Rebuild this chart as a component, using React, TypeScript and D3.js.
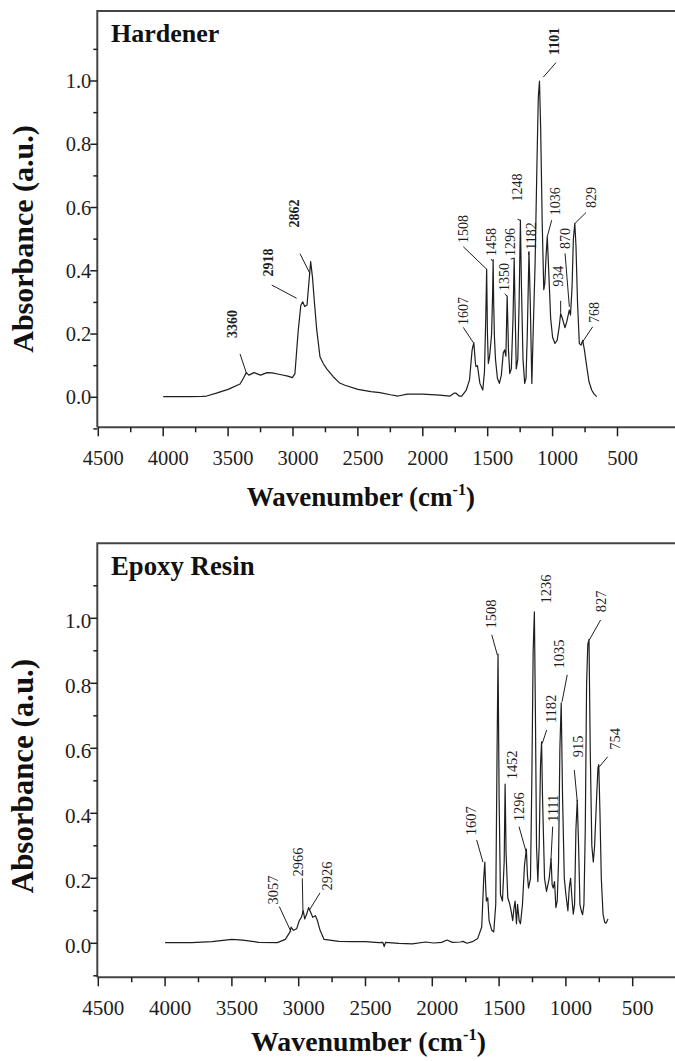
import React from "react";
import * as d3 from "d3";

// ---------- DATA ----------
const xTicks = [4500, 4000, 3500, 3000, 2500, 2000, 1500, 1000, 500];
const xMinorTicks = [4250, 3750, 3250, 2750, 2250, 1750, 1250, 750];
const yTicks = [0.0, 0.2, 0.4, 0.6, 0.8, 1.0];
const yMinorTicks = [-0.1, 0.1, 0.3, 0.5, 0.7, 0.9, 1.1];

const hardenerWave = [4000, 3900, 3800, 3700, 3665, 3590, 3500, 3408, 3380, 3360, 3340, 3300, 3250, 3200, 3160, 3100, 3040, 3005, 2985, 2960, 2940, 2925, 2910, 2892, 2878, 2864, 2850, 2835, 2817, 2792, 2767, 2740, 2690, 2640, 2600, 2500, 2400, 2330, 2250, 2190, 2120, 2000, 1870, 1790, 1760, 1744, 1720, 1700, 1665, 1640, 1620, 1607, 1595, 1590, 1579, 1560, 1538, 1525, 1515, 1508, 1502, 1495, 1485, 1470, 1462, 1458, 1454, 1448, 1440, 1425, 1410, 1395, 1380, 1370, 1360, 1350, 1340, 1330, 1318, 1305, 1296, 1290, 1280, 1268, 1258, 1248, 1240, 1228, 1215, 1205, 1195, 1182, 1172, 1160, 1150, 1135, 1120, 1110, 1101, 1092, 1080, 1068, 1060, 1050, 1041, 1030, 1015, 1000, 982, 965, 950, 938, 925, 905, 890, 880, 871, 862, 850, 840, 829, 820, 808, 794, 780, 768, 755, 737, 720, 699, 680, 660];
const hardenerAbs = [0.002, 0.002, 0.002, 0.003, 0.004, 0.013, 0.025, 0.042, 0.062, 0.078, 0.07, 0.078, 0.07, 0.078, 0.077, 0.072, 0.067, 0.062, 0.075, 0.21, 0.29, 0.302, 0.287, 0.292, 0.36, 0.429, 0.38, 0.3, 0.213, 0.128, 0.107, 0.09, 0.065, 0.045, 0.038, 0.025, 0.018, 0.015, 0.008, 0.004, 0.01, 0.01, 0.007, 0.004, 0.013, 0.013, 0.004, 0.004, 0.023, 0.055, 0.15, 0.173, 0.11, 0.097, 0.1, 0.044, 0.023, 0.08, 0.25, 0.405, 0.2, 0.107, 0.13, 0.2, 0.33, 0.435, 0.3, 0.19, 0.12, 0.06, 0.044, 0.07, 0.14, 0.15, 0.13, 0.32, 0.15, 0.075, 0.09, 0.25, 0.44, 0.3, 0.09, 0.12, 0.3, 0.56, 0.35, 0.12, 0.044, 0.06, 0.2, 0.46, 0.3, 0.044, 0.2, 0.42, 0.75, 0.95, 1.0, 0.85, 0.55, 0.34, 0.36, 0.45, 0.508, 0.4, 0.25, 0.19, 0.17, 0.18, 0.22, 0.265, 0.25, 0.22, 0.24, 0.26, 0.276, 0.26, 0.35, 0.5, 0.55, 0.48, 0.3, 0.17, 0.165, 0.18, 0.15, 0.097, 0.05, 0.023, 0.01, 0.002];

const epoxyWave = [4000, 3800, 3650, 3550, 3500, 3420, 3300, 3160, 3100, 3065, 3057, 3040, 3015, 2995, 2980, 2966, 2955, 2940, 2926, 2910, 2895, 2875, 2860, 2840, 2810, 2700, 2600, 2500, 2400, 2370, 2360, 2350, 2250, 2150, 2050, 1990, 1930, 1890, 1850, 1790, 1770, 1740, 1700, 1660, 1630, 1615, 1607, 1600, 1595, 1585, 1575, 1555, 1540, 1525, 1515, 1508, 1500, 1490, 1475, 1462, 1455, 1448, 1435, 1420, 1410, 1398, 1388, 1380, 1370, 1362, 1350, 1340, 1325, 1310, 1296, 1288, 1280, 1265, 1255, 1245, 1236, 1228, 1220, 1210, 1200, 1190, 1182, 1175, 1160, 1145, 1135, 1125, 1111, 1103, 1095, 1085, 1075, 1065, 1055, 1045, 1035, 1025, 1012, 1000, 985, 975, 965, 955, 945, 935, 925, 915, 905, 895, 885, 875, 865, 855, 845, 836, 827, 818, 806, 795, 785, 770, 760, 754, 745, 735, 722, 710, 700, 690, 685];
const epoxyAbs = [0.002, 0.002, 0.005, 0.01, 0.012, 0.01, 0.003, 0.002, 0.012, 0.035, 0.05, 0.04, 0.045, 0.07, 0.08, 0.1, 0.075, 0.09, 0.11, 0.095, 0.08, 0.085, 0.07, 0.04, 0.012, 0.006, 0.005, 0.005, 0.002, 0.003, -0.01, 0.003, 0.0, -0.002, 0.004, 0.001, 0.003, 0.01, 0.003, 0.004, 0.006, 0.0, 0.005, 0.015, 0.05, 0.2, 0.25, 0.17, 0.13, 0.14, 0.07, 0.04, 0.035, 0.12, 0.6, 0.89, 0.45, 0.15, 0.13, 0.25, 0.49, 0.28, 0.14, 0.12, 0.1, 0.07, 0.11, 0.13, 0.06, 0.12, 0.07, 0.06, 0.12, 0.24, 0.29, 0.21, 0.17, 0.2, 0.5, 0.9, 1.02, 0.7, 0.3, 0.19, 0.3, 0.55, 0.62, 0.45, 0.2, 0.16, 0.18, 0.2, 0.26, 0.18, 0.17, 0.19, 0.11, 0.13, 0.25, 0.6, 0.74, 0.45, 0.2, 0.15, 0.1, 0.17, 0.2, 0.14, 0.09, 0.12, 0.35, 0.44, 0.3, 0.12, 0.1, 0.088, 0.12, 0.35, 0.8, 0.92, 0.935, 0.6, 0.3, 0.25, 0.3, 0.45, 0.54, 0.55, 0.4, 0.2, 0.09, 0.065, 0.062, 0.07, 0.075];

// annotation labels: text, label centre (wavenumber, abs), leader line (from -> to)
const hardenerLabels = ["3360", "2918", "2862", "1607", "1508", "1458", "1350", "1296", "1248", "1182", "1101", "1036", "934", "870", "829", "768"];
const hardenerBold = [true, true, true, false, false, false, false, false, false, false, true, false, false, false, false, false];
const hardenerLabelPos = [[3466, 0.232], [3185, 0.426], [2988, 0.581], [1690, 0.273], [1690, 0.532], [1471, 0.491], [1367, 0.38], [1321, 0.491], [1267, 0.663], [1163, 0.51], [989, 1.125], [974, 0.62], [955, 0.383], [904, 0.502], [699, 0.632], [676, 0.268]];
const hardenerLeaders = [[3408, 0.137, 3357, 0.074], [3164, 0.355, 2972, 0.313], [2946, 0.454, 2869, 0.391], [1688, 0.221, 1611, 0.173], [1688, 0.476, 1508, 0.405], [1474, 0.437, 1462, 0.43], [1370, 0.327, 1350, 0.32], [1323, 0.437, 1297, 0.44], [1270, 0.563, 1251, 0.56], [1185, 0.45, 1182, 0.46], [1072, 1.012, 974, 1.058], [1007, 0.56, 1041, 0.508], [938, 0.305, 938, 0.267], [904, 0.455, 871, 0.286], [743, 0.584, 827, 0.55], [691, 0.223, 776, 0.171]];

const epoxyLabels = ["3057", "2966", "2926", "1607", "1508", "1452", "1296", "1236", "1182", "1111", "1035", "915", "827", "754"];
const epoxyLabelPos = [[3189, 0.164], [3006, 0.25], [2790, 0.207], [1710, 0.377], [1561, 1.013], [1407, 0.549], [1351, 0.42], [1149, 1.09], [1108, 0.721], [1100, 0.415], [1052, 0.89], [910, 0.606], [737, 1.052], [632, 0.629]];
const epoxyLeaders = [[3145, 0.113, 3058, 0.036], [2973, 0.2, 2968, 0.093], [2841, 0.155, 2920, 0.102], [1668, 0.318, 1621, 0.25], [1555, 0.949, 1513, 0.887], null, [1351, 0.359, 1298, 0.282], null, [1144, 0.656, 1177, 0.615], [1099, 0.359, 1112, 0.256], [990, 0.826, 1029, 0.743], [937, 0.533, 915, 0.436], [740, 0.995, 825, 0.933], [687, 0.574, 750, 0.543]];

// ---------- COMPONENTS ----------
const SERIF = "'Liberation Serif', 'Times New Roman', serif";
const INK = "#1e1e1e";

type PanelProps = {
  title: string;
  wave: number[];
  abs: number[];
  labels: string[];
  bold?: boolean[];
  labelPos: number[][];
  leaders: (number[] | null)[];
  x0: number;
  pxPerUnit: number;
  y0: number;
  pxPerAbs: number;
  top: number;
  bottom: number;
  left: number;
  s: number;
  tickLabelY: number;
  titleY: number;
  yLabelShift: number;
  yTitleCenter: number;
};

function Panel(p: PanelProps) {
  const x = d3.scaleLinear().domain([4500, 0]).range([p.x0, p.x0 + 4500 * p.pxPerUnit]);
  const y = d3.scaleLinear().domain([0, 1]).range([p.y0, p.y0 - p.pxPerAbs]);
  const pts: [number, number][] = p.wave.map((w, i) => [w, p.abs[i]]);
  const line = d3.line<[number, number]>().x((d) => x(d[0])).y((d) => y(d[1]));
  const fsTick = 20.5 * p.s;
  const fsAnn = 14 * p.s;
  return (
    <g>
      <path d={`M${p.left},${p.bottom} L${p.left},${p.top} L700,${p.top}`} fill="none" stroke="#444" strokeWidth={2} />
      <line x1={p.left} x2={700} y1={p.bottom} y2={p.bottom} stroke="#444" strokeWidth={2} />
      {xTicks.map((t) => (
        <g key={"xt" + t}>
          <line x1={x(t)} x2={x(t)} y1={p.bottom} y2={p.bottom + 9} stroke={INK} strokeWidth={1.5} />
          <text x={x(t) + 5} y={p.tickLabelY} fontSize={fsTick} fontFamily={SERIF} textAnchor="middle" fill={INK}>{t}</text>
        </g>
      ))}
      {xMinorTicks.map((t) => (
        <line key={"xm" + t} x1={x(t)} x2={x(t)} y1={p.bottom} y2={p.bottom + 5} stroke={INK} strokeWidth={1.5} />
      ))}
      {yTicks.map((t) => (
        <g key={"yt" + t}>
          <line x1={p.left - 7} x2={p.left} y1={y(t)} y2={y(t)} stroke={INK} strokeWidth={1.5} />
          <text x={p.left - 6} y={y(t) + p.yLabelShift} fontSize={fsTick} fontFamily={SERIF} textAnchor="end" dominantBaseline="central" fill={INK}>{t.toFixed(1)}</text>
        </g>
      ))}
      {yMinorTicks.map((t) => (
        <line key={"ym" + t} x1={p.left - 4} x2={p.left} y1={y(t)} y2={y(t)} stroke={INK} strokeWidth={1.5} />
      ))}
      <path d={line(pts) || ""} fill="none" stroke={INK} strokeWidth={1.2} strokeLinejoin="round" />
      {p.labels.map((lab, i) => {
        const [lw, la] = p.labelPos[i];
        const ld = p.leaders[i];
        return (
          <g key={"a" + i}>
            <text
              transform={`translate(${x(lw)},${y(la)}) rotate(-90)`}
              fontSize={fsAnn}
              fontFamily={SERIF}
              fontWeight={p.bold && p.bold[i] ? "bold" : "normal"}
              textAnchor="middle"
              dominantBaseline="central"
              fill={INK}
            >
              {lab}
            </text>
            {ld && <line x1={x(ld[0])} y1={y(ld[1])} x2={x(ld[2])} y2={y(ld[3])} stroke={INK} strokeWidth={1} />}
          </g>
        );
      })}
      <text x={111} y={p.top + 31 * p.s} fontSize={26 * p.s} fontWeight="bold" fontFamily={SERIF} fill="#111">{p.title}</text>
      <text
        transform={`translate(33,${p.yTitleCenter}) rotate(-90)`}
        fontSize={30 * p.s}
        fontWeight="bold"
        fontFamily={SERIF}
        textAnchor="middle"
        fill="#111"
      >
        Absorbance (a.u.)
      </text>
      <text x={x(2500) + 3} y={p.titleY} fontSize={27 * p.s} fontWeight="bold" fontFamily={SERIF} textAnchor="middle" fill="#111">
        Wavenumber (cm
        <tspan fontSize={16 * p.s} dy={-11 * p.s}>-1</tspan>
        <tspan dy={11 * p.s}>)</tspan>
      </text>
    </g>
  );
}

export default function App() {
  return (
    <svg width={675} height={1061} viewBox="0 0 675 1061" style={{ position: "absolute", left: 0, top: 0, background: "#fff" }}>
      <rect x={0} y={0} width={675} height={1061} fill="#fff" />
      <Panel
        title="Hardener"
        wave={hardenerWave}
        abs={hardenerAbs}
        labels={hardenerLabels}
        bold={hardenerBold}
        labelPos={hardenerLabelPos}
        leaders={hardenerLeaders}
        x0={98.3}
        pxPerUnit={0.1298}
        y0={397.3}
        pxPerAbs={316.3}
        top={11}
        bottom={427.3}
        left={97.3}
        s={1}
        tickLabelY={465}
        titleY={506}
        yLabelShift={0}
        yTitleCenter={239}
      />
      <Panel
        title="Epoxy Resin"
        wave={epoxyWave}
        abs={epoxyAbs}
        labels={epoxyLabels}
        labelPos={epoxyLabelPos}
        leaders={epoxyLeaders}
        x0={98.3}
        pxPerUnit={0.1336}
        y0={943.3}
        pxPerAbs={325}
        top={543.3}
        bottom={977.3}
        left={97.3}
        s={1.03}
        tickLabelY={1015}
        titleY={1051}
        yLabelShift={3}
        yTitleCenter={776}
      />
    </svg>
  );
}
